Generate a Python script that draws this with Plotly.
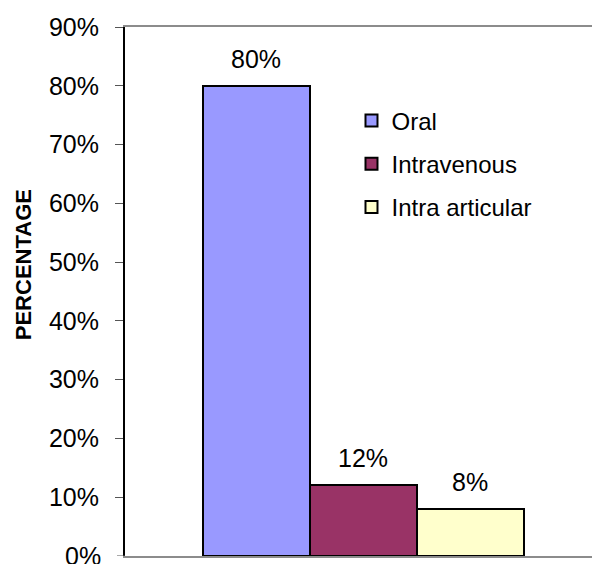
import plotly.graph_objects as go

# Route of administration and share of patients
routes = ["Oral", "Intravenous", "Intra articular"]
shares = [0.80, 0.12, 0.08]
colors = ["#9999FF", "#993366", "#FFFFCC"]
positions = [0, 1, 2]

FONT = "Liberation Sans, Arial, sans-serif"

fig = go.Figure()
for name, val, col, pos in zip(routes, shares, colors, positions):
    fig.add_trace(go.Bar(
        x=[pos], y=[val], name=name, width=1.0,
        marker=dict(color=col, line=dict(color="black", width=2)),
        legendgroup=name,
    ))
    fig.add_annotation(
        x=pos, y=val, text=f"{val:.0%}", showarrow=False,
        yanchor="bottom", yshift=11,
        font=dict(family=FONT, size=25, color="black"),
    )

# The 0% label sits on the lower page edge, so it is placed explicitly
fig.add_annotation(
    xref="paper", x=0, y=0, text="0%", showarrow=False,
    xanchor="right", yanchor="middle", xshift=-22,
    font=dict(family=FONT, size=25, color="black"),
)

# Vertical axis title
fig.add_annotation(
    xref="paper", yref="paper", x=-0.218, y=0.55, xanchor="center", yanchor="middle",
    text="<b>PERCENTAGE</b>", textangle=-90, showarrow=False,
    font=dict(family=FONT, size=22, color="black"),
)

fig.update_layout(
    width=592, height=564,
    margin=dict(l=125, r=0, t=27, b=8),
    paper_bgcolor="white", plot_bgcolor="white",
    barmode="overlay", bargap=0,
    showlegend=True,
    legend=dict(
        x=0.485, y=0.865, xanchor="left", yanchor="top",
        font=dict(family=FONT, size=24, color="black"),
        bgcolor="rgba(0,0,0,0)", tracegroupgap=9, itemwidth=30,
    ),
    font=dict(family=FONT, size=25, color="black"),
)
fig.update_xaxes(
    range=[-1.229, 3.136], showticklabels=False, ticks="",
    showgrid=False, zeroline=False,
    showline=True, linecolor="#8c8c8c", linewidth=2, mirror=True,
)
fig.update_yaxes(
    range=[0, 0.9], tickvals=[i / 10 for i in range(1, 10)], tickformat=".0%",
    showgrid=False, zeroline=False,
    showline=True, linecolor="black", linewidth=2,
    ticks="outside", ticklen=8, tickcolor="#555555", tickwidth=1,
    ticklabelstandoff=11,
    tickfont=dict(family=FONT, size=25, color="black"),
)
# tick mark for the 0% level
fig.add_shape(type="line", xref="paper", yref="y", x0=-8 / 467, x1=0, y0=0, y1=0,
              line=dict(color="#555555", width=1))

fig.write_html("out.html")
